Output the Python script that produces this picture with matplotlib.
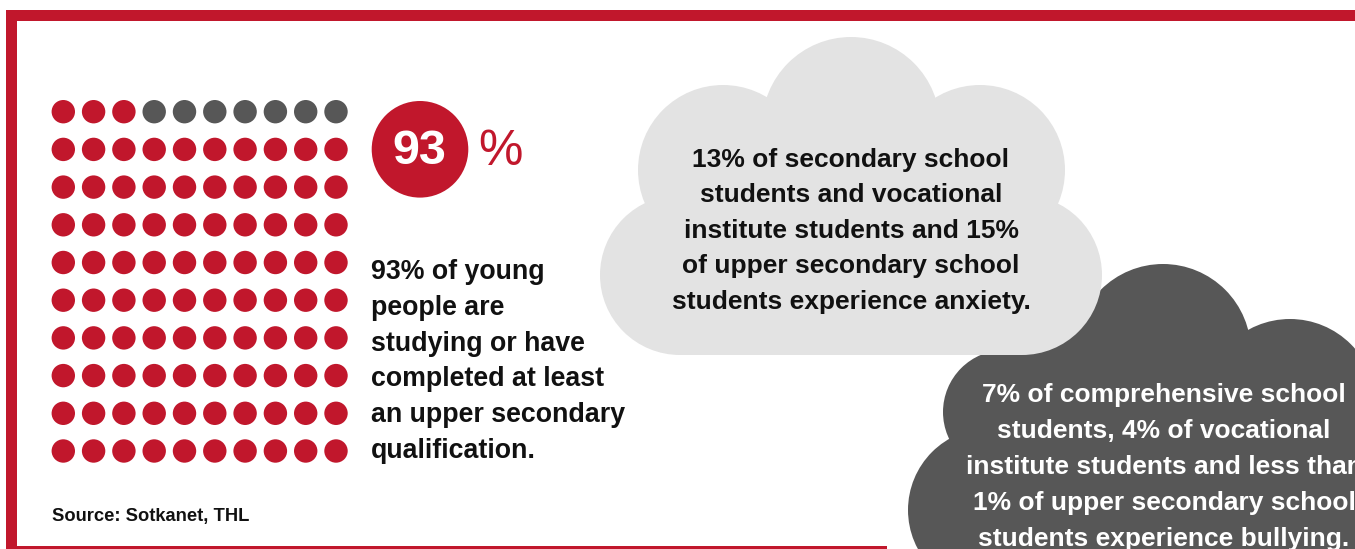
import matplotlib
matplotlib.use("Agg")
import matplotlib.pyplot as plt
from matplotlib.patches import Circle, Rectangle, Polygon

# data
share_pct = 93
n_rows, n_cols = 10, 10
big_label = "93"
pct_sign = "%"
study_lines = ["93% of young", "people are", "studying or have",
               "completed at least", "an upper secondary", "qualification."]
anxiety_lines = ["13% of secondary school", "students and vocational",
                 "institute students and 15%", "of upper secondary school",
                 "students experience anxiety."]
bullying_lines = ["7% of comprehensive school", "students, 4% of vocational",
                  "institute students and less than", "1% of upper secondary school",
                  "students experience bullying."]
source_text = "Source: Sotkanet, THL"

RED = "#C1172C"
DARK = "#575757"
LIGHT = "#E3E3E3"
FONT = ["Liberation Sans", "DejaVu Sans"]

plt.rcParams['font.family'] = FONT

fig = plt.figure(figsize=(13.55, 5.49), dpi=100)
ax = fig.add_axes([0, 0, 1, 1])
ax.set_xlim(0, 1355)
ax.set_ylim(549, 0)
ax.axis('off')


def cloud(circles, body, color, z):
    # a cloud = some round bumps + a polygon filling the middle
    for (cx, cy, r) in circles:
        ax.add_patch(Circle((cx, cy), r, facecolor=color, edgecolor='none', zorder=z))
    ax.add_patch(Polygon(body, closed=True, facecolor=color, edgecolor='none', zorder=z))


# red frame
ax.add_patch(Rectangle((6, 10), 1400, 11, facecolor=RED, edgecolor='none', zorder=1))
ax.add_patch(Rectangle((6, 10), 11, 560, facecolor=RED, edgecolor='none', zorder=1))
ax.add_patch(Rectangle((6, 545.5), 881, 11, facecolor=RED, edgecolor='none', zorder=1))

# dot grid, filled from the bottom row up, left to right
x0, y0, dx, dy, rad = 63.3, 111.7, 30.3, 37.7, 11.7
for k in range(n_rows * n_cols):
    row = n_rows - 1 - k // n_cols
    col = k % n_cols
    c = RED if k < share_pct else DARK
    ax.add_patch(Circle((x0 + col * dx, y0 + row * dy), rad, facecolor=c,
                        edgecolor='none', zorder=3))

# big 93 %
ax.add_patch(Circle((420, 149.3), 48.3, facecolor=RED, edgecolor='none', zorder=3))
ax.text(419.5, 164.5, big_label, color='white', fontsize=35, fontweight='bold',
        ha='center', va='baseline', zorder=4)
ax.text(500.5, 165, pct_sign, color=RED, fontsize=36, fontweight='normal',
        ha='center', va='baseline', zorder=4)

for i, line in enumerate(study_lines):
    ax.text(371, 279 + 35.8 * i, line, color='#111111', fontsize=19.3,
            fontweight='bold', ha='left', va='baseline', zorder=4)

ax.text(52, 521, source_text, color='#111111', fontsize=13.2,
        fontweight='bold', ha='left', va='baseline', zorder=4)

# dark cloud (under the light one)
cloud([(1163, 352, 88), (1290, 405, 86), (1005, 412, 62), (990, 510, 82)],
      [(990, 510), (1005, 412), (1000, 340), (1090, 290), (1163, 352),
       (1290, 405), (1400, 405), (1400, 600), (990, 600)], DARK, 5)

for i, line in enumerate(bullying_lines):
    ax.text(1164, 402 + 36 * i, line, color='white', fontsize=19,
            fontweight='bold', ha='center', va='baseline', zorder=6)

# light cloud
cloud([(851, 126, 89), (723, 170, 85), (980, 170, 85), (680, 275, 80), (1022, 275, 80)],
      [(723, 170), (851, 126), (980, 170), (1022, 275), (1022, 355),
       (680, 355), (680, 275)], LIGHT, 7)

for i, line in enumerate(anxiety_lines):
    ax.text(851, 167 + 35.5 * i, line, color='#111111', fontsize=19,
            fontweight='bold', ha='center', va='baseline', zorder=8)

fig.savefig("out.png", dpi=100, facecolor='white')
